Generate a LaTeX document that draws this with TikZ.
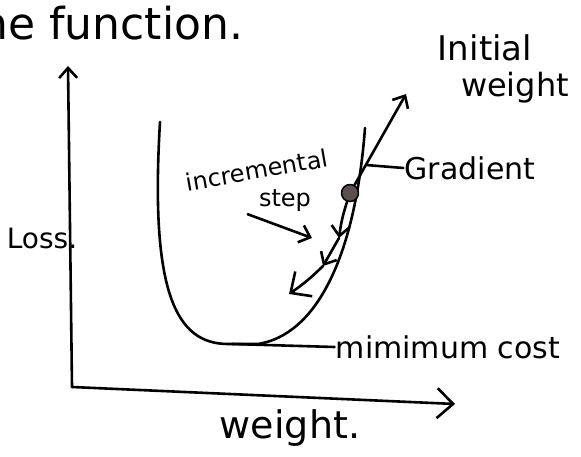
\documentclass[tikz,border=0pt]{standalone}
\usepackage{fontspec}
\setmainfont{DejaVu Sans}
\usepackage{xcolor}
\definecolor{balldark}{HTML}{5A5050}
\usetikzlibrary{arrows.meta}

\begin{document}
\begin{tikzpicture}[x=1pt,y=-1pt,>={Straight Barb[length=10pt,width=18pt]},line width=2.6pt,line cap=round,line join=round]
            \tikzstyle{txt}=[inner sep=0pt]
            \tikzstyle{ball}=[circle,draw,fill=balldark,minimum size=17pt,inner sep=0pt,line width=1.5pt]
            \tikzstyle{bigtip}=[>={Straight Barb[length=16pt,width=30pt]}]

            \useasboundingbox (0,0) rectangle (581,457);

            % axes
            \coordinate (O) at (72,387);
            \coordinate (ytip) at (68,66);
            \coordinate (xtip) at (455,404);
            \draw[->] (O) -- (ytip);
            \draw[->,bigtip] (O) -- (xtip);

            % loss curve
            \draw (160,122) .. controls (150,290) and (175,344) .. (228,344) -- (258,344)
                  .. controls (315,335) and (355,260) .. (365,128);

            % gradient and steps
            \node[ball] (ball) at (350,193) {};
            \coordinate (inittip) at (406,94);
            \coordinate (s1) at (339,238);
            \coordinate (s2) at (323,266);
            \coordinate (s3) at (289,294);
            \coordinate (gpt) at (366,165);
            \coordinate (minpt) at (232,344);
            \coordinate (stepend) at (312,238);
            \draw[->] (ball) -- (inittip);
            \draw[->] (ball) to[bend right=5] (s1);
            \draw[->] (s1) to (s2);
            \draw[->,bigtip] (s2) to[bend left=5] (s3);

            % labels
            \node[txt,anchor=base west,font=\fontsize{44}{48}\selectfont] (title) at (-38,40) {the function.};
            \node[txt,font=\fontsize{28}{30}\selectfont] (loss) at (42,238) {Loss.};
            \node[txt,font=\fontsize{34}{36}\selectfont] (init1) at (485,48) {Initial};
            \node[txt,font=\fontsize{32}{34}\selectfont] (init2) at (515,88) {weight};
            \node[txt,font=\fontsize{30}{32}\selectfont] (grad) at (470,168) {Gradient};
            \node[txt,rotate=10,font=\fontsize{24}{26}\selectfont] (inc) at (257,170) {incremental};
            \node[txt,font=\fontsize{24}{26}\selectfont] (step) at (285,201) {step};
            \node[txt,font=\fontsize{30}{32}\selectfont] (mincost) at (448,347) {mimimum cost};
            \node[txt,font=\fontsize{38}{40}\selectfont] (wlabel) at (290,428) {weight.};

            \draw (grad.west) -- (gpt);
            \draw (mincost.west) -- (minpt);
            \draw[->] ([xshift=-10pt,yshift=-1pt]step.south west) -- (stepend);
        \end{tikzpicture}
\end{document}
